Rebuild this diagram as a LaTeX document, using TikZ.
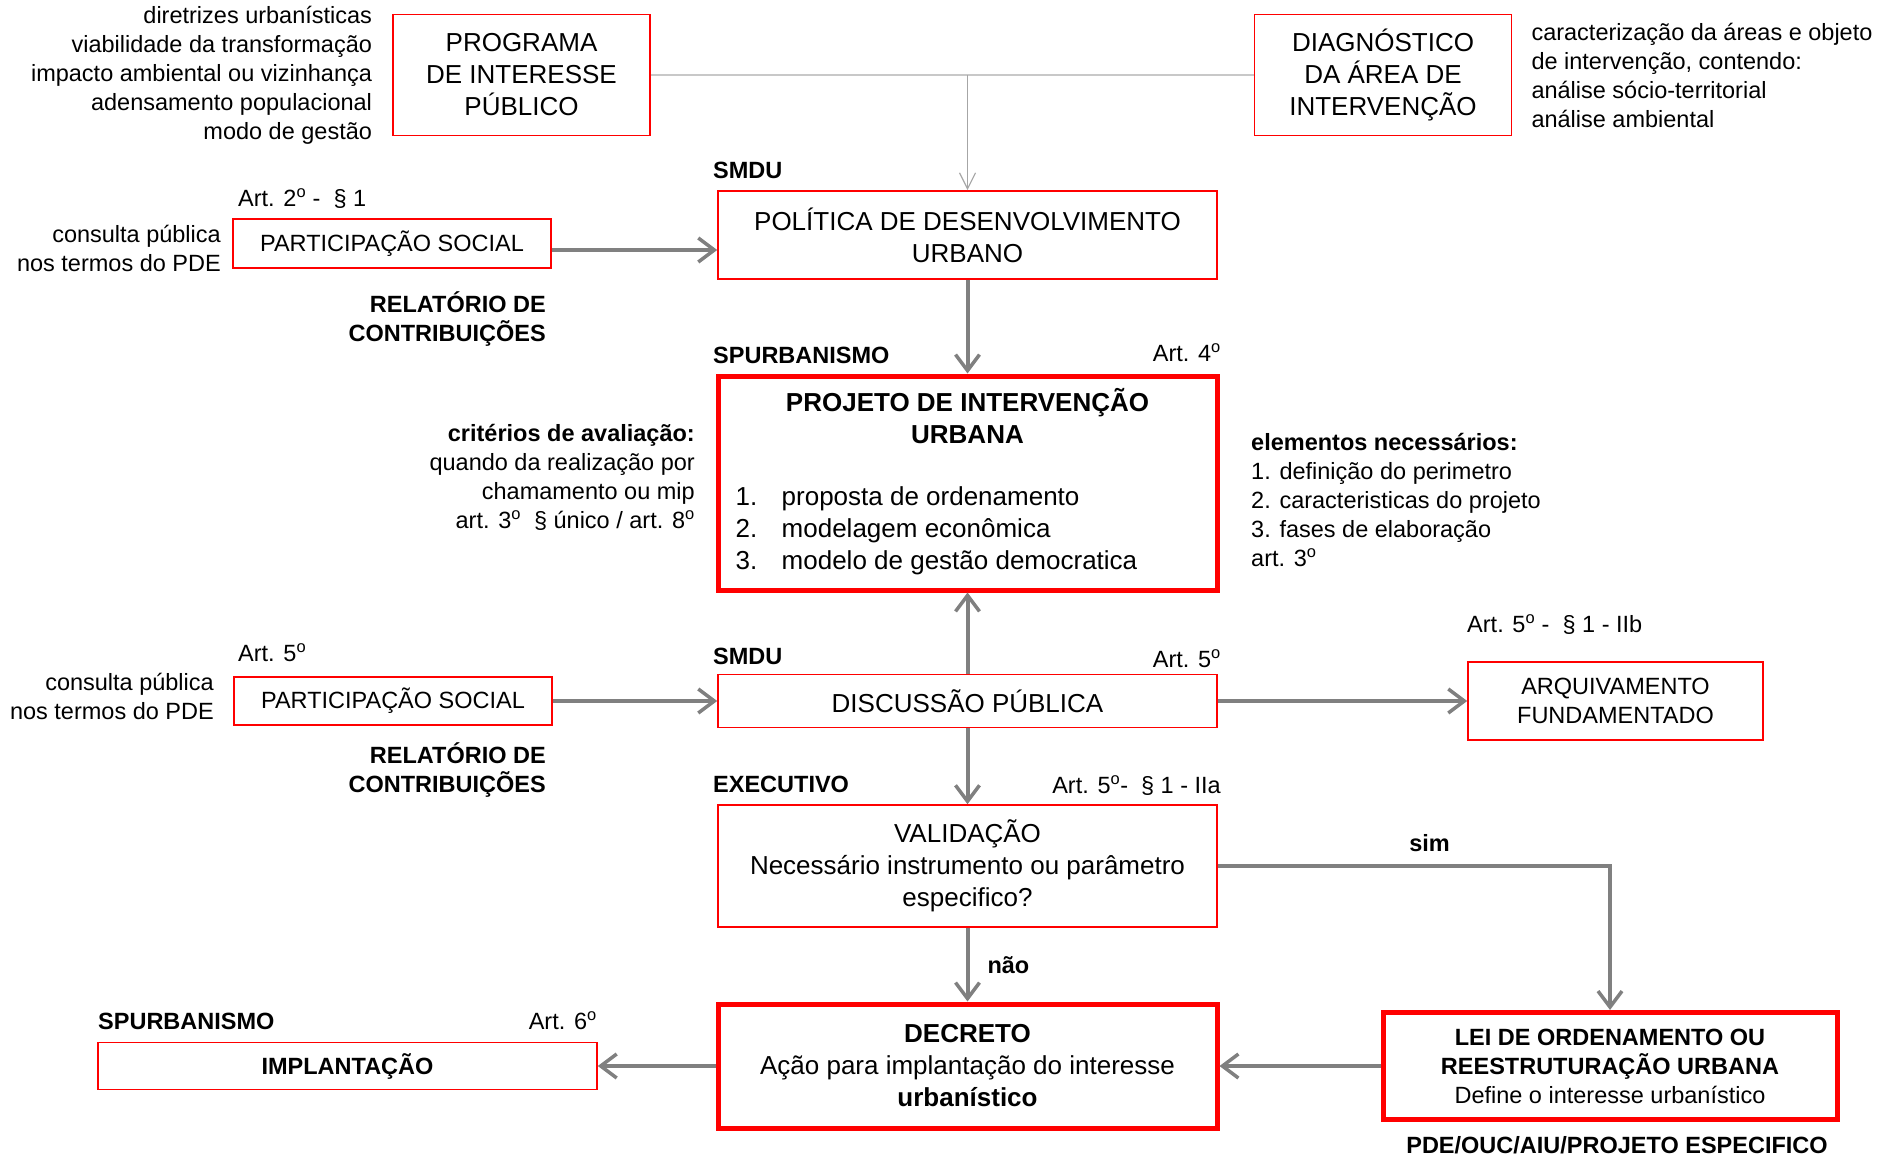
\documentclass[tikz,border=0pt]{standalone}
\usepackage{fontspec}
\setmainfont{Liberation Sans}
\usetikzlibrary{positioning,calc,arrows.meta}

\definecolor{boxred}{HTML}{FF0000}
\definecolor{arrowgray}{HTML}{808080}
\definecolor{linegray}{HTML}{C8C8C8}
\newcommand{\boxfont}{\fontsize{26}{32}\selectfont}
\newcommand{\notefont}{\fontsize{23.5}{29}\selectfont}
\newcommand{\ord}{\textsuperscript{o}}

\begin{document}
\begin{tikzpicture}[
    x=1pt, y=-1pt,
    box/.style={rectangle, draw=boxred, line width=1.6pt, align=center, font=\boxfont, inner sep=0pt},
    bigbox/.style={box, line width=5pt},
    note/.style={font=\notefont, inner sep=0pt},
    tag/.style={font=\notefont\bfseries, inner sep=0pt},
    arrow/.style={draw=arrowgray, line width=4pt, -{Straight Barb[length=16pt,width=24pt,line width=3.5pt]}},
    thinarrow/.style={draw=arrowgray!70, line width=1.2pt, -{Straight Barb[length=16pt,width=16pt]}}
]
    \useasboundingbox (0,0) rectangle (1895,1156);

    % main column
    \node[box, minimum width=499, minimum height=88] (pol) at (967.5,235) {POLÍTICA DE DESENVOLVIMENTO\\URBANO};
    \node[bigbox, minimum width=499, minimum height=214, below=93.7pt of pol] (proj) {};
    \node[box, minimum width=499, minimum height=53, below=81.2pt of proj] (disc) {DISCUSSÃO PÚBLICA};
    \node[box, minimum width=499, minimum height=122, below=75.9pt of disc] (val) {VALIDAÇÃO\\Necessário instrumento ou parâmetro\\especifico?};
    \node[bigbox, minimum width=499, minimum height=124, below=73.7pt of val] (dec) {\textbf{DECRETO}\\Ação para implantação do interesse\\\textbf{urbanístico}};

    % top boxes
    \node[box, minimum width=257, minimum height=121] (prog) at (521.5,75) {PROGRAMA\\DE INTERESSE\\PÚBLICO};
    \node[box, minimum width=257, minimum height=121] (diag) at (1383,75) {DIAGNÓSTICO\\DA ÁREA DE\\INTERVENÇÃO};

    % side boxes
    \node[box, font=\notefont, minimum width=318, minimum height=49] (part1) at (392,243.5) {PARTICIPAÇÃO SOCIAL};
    \node[box, font=\notefont, minimum width=318, minimum height=48, left=164.4pt of disc] (part2) {PARTICIPAÇÃO SOCIAL};
    \node[box, font=\notefont, minimum width=295, minimum height=78, right=249.4pt of disc] (arq) {ARQUIVAMENTO\\FUNDAMENTADO};
    \node[box, font=\notefont\bfseries, minimum width=499, minimum height=47, left=117.7pt of dec] (impl) {IMPLANTAÇÃO};
    \node[bigbox, font=\notefont, minimum width=454, minimum height=107, right=161pt of dec] (lei) {\textbf{LEI DE ORDENAMENTO OU}\\\textbf{REESTRUTURAÇÃO URBANA}\\Define o interesse urbanístico};

    % content of the project box
    \node[font=\boxfont\bfseries, align=center, inner sep=0pt] (projTitle) at ($(proj.north)+(0,43)$) {PROJETO DE INTERVENÇÃO\\URBANA};
    \node[font=\boxfont, align=left, inner sep=0pt, anchor=west] (projList) at ($(proj.west)+(20,48)$)
        {\makebox[46pt][l]{1.}proposta de ordenamento\\\makebox[46pt][l]{2.}modelagem econômica\\\makebox[46pt][l]{3.}modelo de gestão democratica};

    % side notes
    \node[note, align=right, left=20pt of prog] (progNote) {diretrizes urbanísticas\\viabilidade da transformação\\impacto ambiental ou vizinhança\\adensamento populacional\\modo de gestão};
    \node[note, align=left, right=19pt of diag] (diagNote) {caracterização da áreas e objeto\\de intervenção, contendo:\\análise sócio-territorial\\análise ambiental};
    \node[note, align=right, anchor=east] (part1Note) at (221,248) {consulta pública\\nos termos do PDE};
    \node[note, align=right, anchor=east] (part2Note) at (214,696) {consulta pública\\nos termos do PDE};
    \node[tag, align=right, anchor=east] (part1Rel) at (546,319) {RELATÓRIO DE\\CONTRIBUIÇÕES};
    \node[tag, align=right, anchor=east] (part2Rel) at (546,770) {RELATÓRIO DE\\CONTRIBUIÇÕES};
    \node[note, align=right, anchor=east] (projCrit) at (695,477) {\textbf{critérios de avaliação:}\\quando da realização por\\chamamento ou mip\\art. 3\ord\ \ \S\ único / art. 8\ord};
    \node[note, align=left, anchor=west] (projElem) at (1251,500) {\textbf{elementos necessários:}\\1. definição do perimetro\\2. caracteristicas do projeto\\3. fases de elaboração\\art. 3\ord};

    % organs and articles
    \node[note, anchor=west] (part1Art) at (238,199) {Art. 2\ord\ -\ \ \S\ 1};
    \node[note, anchor=west] (part2Art) at (238,653) {Art. 5\ord};
    \node[tag, anchor=west] (polOrg) at (713,170) {SMDU};
    \node[tag, anchor=west] (projOrg) at (713,355) {SPURBANISMO};
    \node[note, anchor=east] (projArt) at (1221,353) {Art. 4\ord};
    \node[tag, anchor=west] (discOrg) at (713,656) {SMDU};
    \node[note, anchor=east] (discArt) at (1221,659) {Art. 5\ord};
    \node[note, anchor=west] (arqArt) at (1467,625) {Art. 5\ord\ -\ \ \S\ 1 - IIb};
    \node[tag, anchor=west] (valOrg) at (713,784) {EXECUTIVO};
    \node[note, anchor=east] (valArt) at (1221,786) {Art. 5\ord-\ \ \S\ 1 - IIa};
    \node[tag, anchor=west] (implOrg) at (98,1021) {SPURBANISMO};
    \node[note, anchor=east] (implArt) at (597,1021) {Art. 6\ord};
    \node[tag, anchor=base] (leiBase) at (1617,1153) {PDE/OUC/AIU/PROJETO ESPECIFICO};

    % connectors
    \draw[draw=linegray, line width=2pt] (prog.east) -- (diag.west);
    \draw[thinarrow] (prog.east -| pol.north) -- (pol.north);
    \draw[arrow] ([yshift=-6.5pt]part1.east) -- ([yshift=-6.5pt]part1.east -| pol.west);
    \draw[arrow] (pol.south) -- (proj.north);
    \draw[arrow] (disc.north) -- (proj.south);
    \draw[arrow] (part2.east) -- (disc.west);
    \draw[arrow] (disc.east) -- (arq.west);
    \draw[arrow] (disc.south) -- (val.north);
    \draw[arrow] (val.south) -- node[tag, right=18pt] (no) {não} (dec.north);
    \draw[arrow] (val.east) -| node[tag, pos=0.27, above=12pt] (yes) {sim} (lei.north);
    \draw[arrow] (dec.west) -- (impl.east);
    \draw[arrow] (lei.west) -- (dec.east);
\end{tikzpicture}
\end{document}
